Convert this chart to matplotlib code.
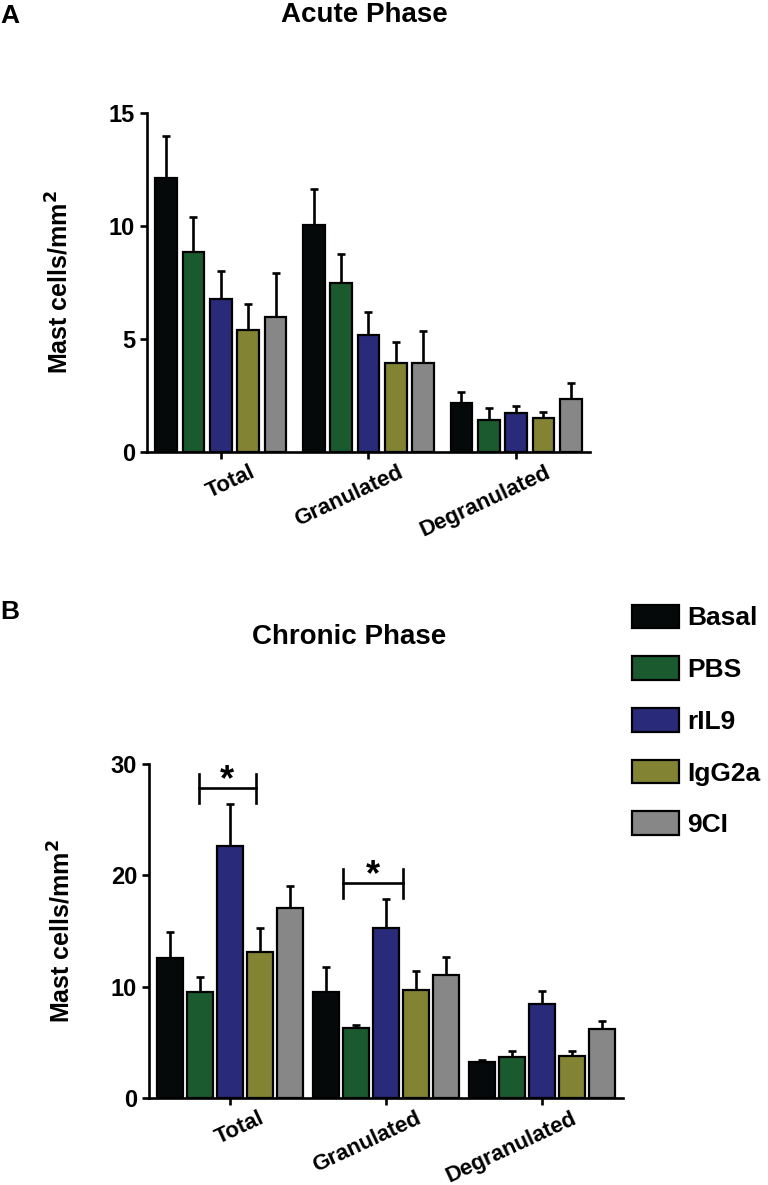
import numpy as np
import matplotlib
matplotlib.use("Agg")
import matplotlib.pyplot as plt

plt.rcParams['font.family'] = ['Liberation Sans', 'DejaVu Sans']
plt.rcParams['font.weight'] = 'bold'

# groups and treatments
groups = ["Total", "Granulated", "Degranulated"]
treatments = ["Basal", "PBS", "rIL9", "IgG2a", "9CI"]
colors = ["#060909", "#1b5a2f", "#292b7a", "#838334", "#878787"]

# acute phase: mean and SEM, rows = treatments, cols = groups
acute_mean = [
    [12.1, 10.05, 2.17],
    [8.85, 7.48, 1.42],
    [6.77, 5.18, 1.72],
    [5.40, 3.94, 1.50],
    [5.97, 3.94, 2.35],
]
acute_err = [
    [1.9, 1.6, 0.48],
    [1.55, 1.28, 0.53],
    [1.23, 1.01, 0.31],
    [1.15, 0.93, 0.27],
    [1.95, 1.41, 0.70],
]

# chronic phase
chronic_mean = [
    [12.6, 9.5, 3.23],
    [9.5, 6.3, 3.7],
    [22.6, 15.3, 8.43],
    [13.1, 9.7, 3.8],
    [17.1, 11.05, 6.2],
]
chronic_err = [
    [2.3, 2.27, 0.17],
    [1.37, 0.3, 0.55],
    [3.8, 2.6, 1.2],
    [2.17, 1.7, 0.45],
    [1.98, 1.62, 0.7],
]

# significance: (group index, bar a, bar b, bracket y, left shift, right shift)
chronic_sig = [
    (0, 1, 3, 27.8, 0.04, 0.14),
    (1, 1, 3, 19.3, 0.42, 0.43),
]

LW = 1.9


def draw_panel(ax, means, errs, gap, width, ymax, yticks, label_dx):
    for i, name in enumerate(treatments):
        x = np.arange(len(groups)) * gap + i
        m = np.array(means[i])
        e = np.array(errs[i])
        ax.errorbar(x, m, yerr=[np.zeros_like(e), e], fmt='none',
                    ecolor='black', elinewidth=LW, capsize=2.6,
                    capthick=LW, zorder=1)
        ax.bar(x, m, width=width, color=colors[i], edgecolor='black',
               linewidth=1.6, label=name, zorder=2)
    centers = np.arange(len(groups)) * gap + 2
    ax.set_xticks(centers)
    ax.set_xticklabels([])
    for c, g in zip(centers, groups):
        ax.annotate(g, xy=(c, 0), xycoords=('data', 'axes fraction'),
                    xytext=(label_dx, -7), textcoords='offset points',
                    rotation=25, rotation_mode='anchor', ha='right',
                    va='top', fontsize=16, fontweight='bold')
    ax.set_xlim(-0.7, (len(groups) - 1) * gap + 4 + 0.7)
    ax.set_ylim(0, ymax)
    ax.set_yticks(yticks)
    ax.tick_params(axis='both', direction='out', length=5, width=LW,
                   labelsize=17)
    for lab in ax.get_yticklabels():
        lab.set_fontweight('bold')
    for s in ['top', 'right']:
        ax.spines[s].set_visible(False)
    for s in ['left', 'bottom']:
        ax.spines[s].set_linewidth(LW)
    ax.set_ylabel("Mast cells/mm$^\\mathbf{2}$", fontsize=18,
                  fontweight='bold', labelpad=26)


fig = plt.figure(figsize=(7.68, 11.85), dpi=100)

axA = fig.add_axes([0.1914, 0.6186, 0.5768, 0.2861])
draw_panel(axA, acute_mean, acute_err, 5.4, 0.8, 15, [0, 5, 10, 15], 21)

axB = fig.add_axes([0.194, 0.0734, 0.6172, 0.2819])
draw_panel(axB, chronic_mean, chronic_err, 5.2, 0.85, 30, [0, 10, 20, 30], 21)

for g, a, b, y, da, db in chronic_sig:
    x1 = g * 5.2 + a - da
    x2 = g * 5.2 + b - db
    axB.plot([x1, x2], [y, y], color='black', lw=LW, clip_on=False)
    axB.plot([x1, x1], [y - 1.3, y + 1.3], color='black', lw=LW, clip_on=False)
    axB.plot([x2, x2], [y - 1.3, y + 1.3], color='black', lw=LW, clip_on=False)
    axB.text((x1 + x2) / 2, y - 0.9, "*", ha='center', va='bottom',
             fontsize=26, fontweight='bold', clip_on=False)

fig.text(0.475, 1 - 15 / 1185, "Acute Phase", ha='center', va='center',
         fontsize=20, fontweight='bold')
fig.text(0.455, 1 - 637 / 1185, "Chronic Phase", ha='center', va='center',
         fontsize=20, fontweight='bold')
fig.text(0.0, 1 - 16 / 1185, "A", ha='left', va='center', fontsize=19,
         fontweight='bold')
fig.text(0.0, 1 - 612 / 1185, "B", ha='left', va='center', fontsize=19,
         fontweight='bold')

handles, labels = axB.get_legend_handles_labels()
fig.legend(handles, labels, loc='upper left',
           bbox_to_anchor=(621 / 768, 1 - 594 / 1185), frameon=False,
           prop={'weight': 'bold', 'size': 19},
           handlelength=1.8, handleheight=1.0, handletextpad=0.3,
           labelspacing=0.98, borderaxespad=0)

fig.savefig("out.png", dpi=100)
